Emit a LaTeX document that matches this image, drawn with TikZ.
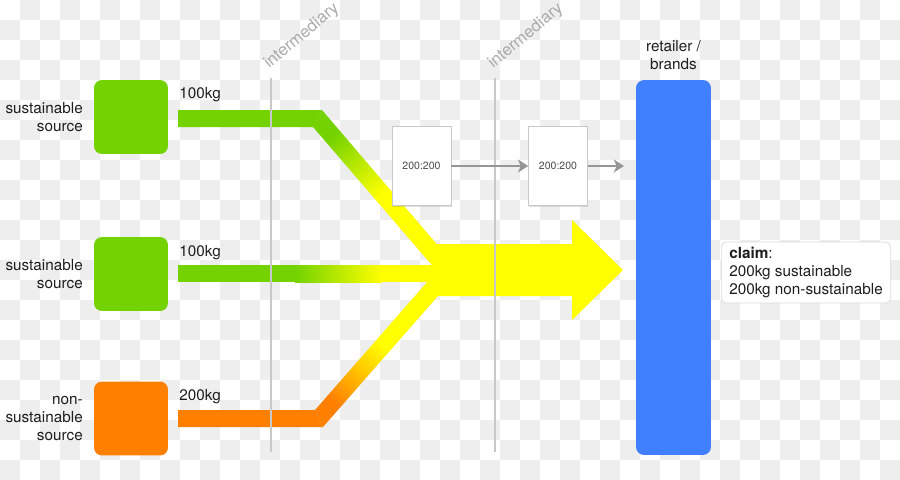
\documentclass[tikz,border=0pt]{standalone}
\usepackage{fontspec}
\setmainfont{TeX Gyre Heros}
\usetikzlibrary{positioning, shadows, arrows.meta}

\definecolor{srcgreen}{RGB}{115,210,0}
\definecolor{srcorange}{RGB}{255,128,0}
\definecolor{flowyellow}{RGB}{255,255,0}
\definecolor{retailblue}{RGB}{64,128,255}
\definecolor{guidegray}{RGB}{200,200,200}
\definecolor{arrowgray}{RGB}{150,150,150}
\definecolor{checkgray}{RGB}{238,238,238}
\definecolor{stagegray}{RGB}{170,170,170}
\definecolor{textdark}{RGB}{30,30,30}

\newcommand{\bodyfont}{\fontsize{8.7}{10.2}\selectfont}

\tikzstyle{source} = [rectangle, rounded corners=0.16cm, minimum width=1.48cm, minimum height=1.48cm, fill=srcgreen]
\tikzstyle{nonsource} = [source, fill=srcorange]
\tikzstyle{srclabel} = [inner sep=0pt, align=right, text=textdark, font=\bodyfont]
\tikzstyle{amount} = [inner sep=0pt, anchor=west, text=textdark, font=\bodyfont]
\tikzstyle{ratio} = [rectangle, minimum width=1.18cm, minimum height=1.58cm, draw=guidegray, fill=white, text=textdark!80, font=\fontsize{6}{7}\selectfont, drop shadow={shadow xshift=0.5pt, shadow yshift=-0.6pt, opacity=0.25}]
\tikzstyle{retailer} = [rectangle, rounded corners=0.16cm, minimum width=1.5cm, minimum height=7.5cm, fill=retailblue]
\tikzstyle{claimbox} = [rectangle, rounded corners=0.1cm, draw=guidegray!70, fill=white, align=left, inner xsep=4.5pt, inner ysep=3pt, text=textdark, font=\bodyfont]
\tikzstyle{guide} = [guidegray, line width=0.8pt]
\tikzstyle{stage} = [rotate=40, inner sep=0pt, anchor=base west, text=stagegray, font=\fontsize{9.5}{11}\selectfont]
\tikzstyle{arrow} = [arrowgray, line width=1.7pt, ->, >={Stealth[length=5.8pt, width=7.4pt, inset=1.6pt]}]

\begin{document}
\begin{tikzpicture}[x=0.02cm, y=-0.02cm]
\useasboundingbox (0,0) rectangle (900,480);

% background
\foreach \row in {0,...,23} {
  \pgfmathtruncatemacro{\first}{mod(\row+1,2)}
  \pgfmathtruncatemacro{\second}{\first+2}
  \foreach \col in {\first,\second,...,44}
    \fill[checkgray] (\col*20,\row*20) rectangle ++(20,20);
}

% flows
\fill[srcgreen] (178,110) -- (322,110) -- (313,127) -- (178,127) -- cycle;
\shade[top color=srcgreen, bottom color=flowyellow, middle color=flowyellow, shading angle=40.5] (313,127) -- (322,110) -- (452,262) -- (443,278) -- cycle;

\fill[srcgreen] (178,265) rectangle (296,282);
\shade[left color=srcgreen, right color=flowyellow] (295,265) rectangle (382,282);
\fill[flowyellow] (381.5,265) rectangle (445,282);

\fill[srcorange] (178,410) -- (315,410) -- (323,427) -- (178,427) -- cycle;
\shade[top color=flowyellow, bottom color=srcorange, middle color=flowyellow, shading angle=-41.3] (315,410) -- (443,264) -- (452,280) -- (323,427) -- cycle;

\fill[flowyellow] (435,244) -- (572,244) -- (572,220) -- (623,270) -- (572,320) -- (572,296) -- (435,296) -- cycle;

% intermediaries
\coordinate (guide1) at (271,78);
\coordinate (guide2) at (495,78);
\draw[guide] (guide1) -- (271,452);
\draw[guide] (guide2) -- (495,452);
\node (stage1) [stage] at (269,69) {intermediary};
\node (stage2) [stage] at (493,69) {intermediary};

% sources
\node (src1) at (131,117) [source] {};
\node (src2) at (131,274) [source] {};
\node (src3) at (131,418.5) [nonsource] {};

\node (src1label) [srclabel, left=6pt of src1] {sustainable\\source};
\node (src2label) [srclabel, left=6pt of src2] {sustainable\\source};
\node (src3label) [srclabel, left=6pt of src3] {non-\\sustainable\\source};

\node (amount1) at (179,95) [amount] {100kg};
\node (amount2) at (179,252.5) [amount] {100kg};
\node (amount3) at (179,396.5) [amount] {200kg};

% ratios
\node (ratio1) at (421.5,166) [ratio] {200:200};
\node (ratio2) at (558,166) [ratio] {200:200};

% retailer
\node (retail) at (673.5,267.5) [retailer] {};
\node (retaillabel) [srclabel, align=center, above=5.5pt of retail] {retailer /\\brands};
\node (claim) at (721,272.5) [claimbox, anchor=west] {\textbf{claim}:\\200kg sustainable\\200kg non-sustainable};

% arrows
\coordinate (retailin) at (624,166);
\draw [arrow] (ratio1) -- (ratio2);
\draw [arrow] (ratio2) -- (retailin);

\end{tikzpicture}
\end{document}
